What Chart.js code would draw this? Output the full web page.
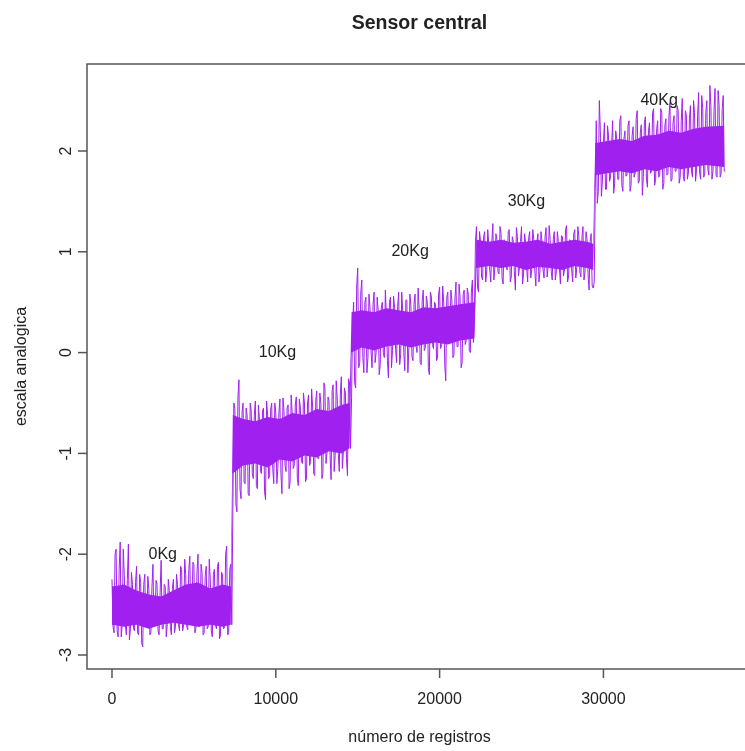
<!DOCTYPE html>
<html>
<head>
<meta charset="utf-8">
<title>Sensor central</title>
<script src="https://cdn.jsdelivr.net/npm/chart.js@4.4.1/dist/chart.umd.min.js"></script>
<style>
  html, body { margin: 0; padding: 0; background: #fff; overflow: hidden; }
  #sensor { display: block; }
</style>
</head>
<body>
<canvas id="sensor" width="760" height="751"></canvas>
<script>
// registros: uma leitura a cada 125 registros (e outra no meio do intervalo)
const passo = 125;

// 0Kg
const valores0 = [
  -2.25, -2.78, -1.95, -2.82, -1.88, -2.70, -2.20, -2.80, -1.90, -2.74,
  -2.30, -2.76, -2.12, -2.80, -2.28, -2.92, -2.20, -2.72, -2.35, -2.78,
  -2.10, -2.70, -2.30, -2.80, -2.06, -2.74, -2.32, -2.70, -2.36, -2.80,
  -2.25, -2.72, -2.30, -2.76, -2.15, -2.70, -2.20, -2.75, -2.02, -2.68,
  -2.10, -2.73, -2.00, -2.70, -2.18, -2.78, -2.12, -2.72, -2.25, -2.82,
  -2.15, -2.74, -2.08, -2.80, -2.20, -2.72, -1.92, -2.78, -2.10
];
// 10Kg
const valores10 = [
  -1.60, -0.55, -1.58, -0.27, -1.45, -0.50, -1.30, -0.62, -1.42, -0.58,
  -1.25, -0.48, -1.35, -0.66, -1.20, -0.55, -1.46, -0.62, -1.22, -0.50,
  -1.30, -0.60, -1.15, -0.46, -1.40, -0.58, -1.18, -0.52, -1.28, -0.60,
  -1.12, -0.44, -1.32, -0.55, -1.10, -0.50, -1.25, -0.42, -1.08, -0.55,
  -1.22, -0.38, -1.05, -0.50, -1.20, -0.35, -1.00, -0.48, -1.26, -0.32,
  -1.02, -0.45, -1.18, -0.24, -0.98, -0.40, -1.22, -0.30
];
// 20Kg
const valores20 = [
  -0.45, 0.50, -0.35, 0.84, -0.10, 0.72, -0.20, 0.55, -0.05, 0.45,
  -0.15, 0.60, 0.00, 0.42, -0.12, 0.50, -0.05, 0.38, -0.25, 0.55,
  0.02, 0.45, -0.10, 0.60, -0.02, 0.40, -0.18, 0.52, 0.05, 0.46,
  -0.08, 0.58, 0.00, 0.44, -0.12, 0.62, 0.05, 0.50, -0.22, 0.55,
  0.04, 0.48, -0.05, 0.65, 0.08, 0.50, -0.28, 0.60, 0.10, 0.52,
  -0.02, 0.70, 0.06, 0.55, -0.10, 0.62, 0.12, 0.58, 0.00, 0.72,
  0.35
];
// 30Kg
const valores30 = [
  1.25, 0.60, 1.10, 0.72, 1.20, 0.80, 1.08, 0.70, 1.28, 0.85,
  1.12, 0.78, 1.18, 0.68, 1.05, 0.82, 1.22, 0.75, 1.10, 0.62,
  1.15, 0.84, 1.25, 0.78, 1.08, 0.70, 1.20, 0.82, 1.12, 0.66,
  1.18, 0.80, 1.10, 0.74, 1.24, 0.85, 1.12, 0.72, 1.20, 0.80,
  1.10, 0.68, 1.15, 0.82, 1.26, 0.76, 1.10, 0.70, 1.22, 0.84,
  1.15, 0.75, 1.25, 0.80, 1.12, 0.62, 1.18, 0.64
];
// 40Kg
const valores40 = [
  1.60, 1.48, 2.50, 1.55, 2.10, 1.62, 2.25, 1.70, 2.05, 1.58,
  2.20, 1.72, 2.30, 1.66, 2.12, 1.75, 2.25, 1.60, 2.15, 1.74,
  2.32, 1.68, 2.18, 1.56, 2.28, 1.72, 2.20, 1.78, 2.38, 1.66,
  2.22, 1.74, 2.42, 1.62, 2.25, 1.76, 2.35, 1.70, 2.28, 1.80,
  2.45, 1.68, 2.30, 1.75, 2.40, 1.72, 2.32, 1.80, 2.50, 1.70,
  2.35, 1.78, 2.55, 1.74, 2.38, 1.82, 2.65, 1.72, 2.40, 1.76,
  2.60, 1.74, 2.42, 1.80
];

// leituras no meio de cada intervalo de 125 registros
const meio0 = [
  -2.72, -2.00, -2.76, -2.15, -2.82, -1.95, -2.70, -2.25, -2.85, -2.18,
  -2.74, -2.28, -2.78, -2.20, -2.88, -2.30, -2.72, -2.22, -2.80, -2.33,
  -2.70, -2.26, -2.76, -2.38, -2.74, -2.30, -2.82, -2.25, -2.72, -2.34,
  -2.78, -2.20, -2.70, -2.12, -2.76, -2.05, -2.72, -2.15, -2.70, -2.08,
  -2.78, -2.18, -2.72, -2.10, -2.80, -2.22, -2.74, -2.05, -2.76, -2.20,
  -2.70, -2.12, -2.84, -2.18, -2.74, -2.00, -2.80, -2.15, -2.70
];
const meio10 = [
  -0.50, -1.50, -0.45, -1.35, -0.60, -1.28, -0.55, -1.40, -0.50, -1.20,
  -0.62, -1.32, -0.52, -1.18, -0.58, -1.38, -0.48, -1.25, -0.56, -1.15,
  -0.50, -1.30, -0.60, -1.20, -0.45, -1.12, -0.55, -1.35, -0.42, -1.15,
  -0.52, -1.25, -0.46, -1.08, -0.40, -1.28, -0.50, -1.12, -0.36, -1.20,
  -0.48, -1.05, -0.40, -1.25, -0.30, -1.10, -0.44, -1.02, -0.38, -1.18,
  -0.28, -1.00, -0.42, -1.15, -0.35, -1.05, -0.26, -0.95
];
const meio20 = [
  0.30, -0.30, 0.65, -0.15, 0.60, -0.05, 0.50, -0.20, 0.58, 0.02,
  0.48, -0.10, 0.55, -0.22, 0.44, 0.00, 0.62, -0.08, 0.50, -0.15,
  0.56, 0.03, 0.46, -0.12, 0.60, 0.00, 0.52, -0.20, 0.58, -0.04,
  0.48, 0.06, 0.64, -0.10, 0.52, 0.02, 0.56, -0.15, 0.60, 0.08,
  0.50, -0.08, 0.58, 0.04, 0.66, -0.12, 0.55, 0.10, 0.62, -0.05,
  0.54, 0.06, 0.68, -0.15, 0.58, 0.08, 0.64, 0.02, 0.60, 0.10,
  1.10
];
const meio30 = [
  0.65, 1.20, 0.75, 1.15, 0.70, 1.22, 0.82, 1.10, 0.72, 1.18,
  0.80, 1.25, 0.74, 1.12, 0.85, 1.20, 0.70, 1.15, 0.80, 1.24,
  0.76, 1.10, 0.68, 1.18, 0.84, 1.14, 0.74, 1.22, 0.80, 1.10,
  0.70, 1.20, 0.82, 1.15, 0.75, 1.26, 0.80, 1.12, 0.72, 1.20,
  0.84, 1.16, 0.76, 1.22, 0.70, 1.12, 0.82, 1.18, 0.74, 1.25,
  0.80, 1.14, 0.72, 1.20, 0.78, 1.10, 0.66, 0.70
];
const meio40 = [
  2.30, 1.60, 2.20, 1.70, 2.28, 1.62, 2.15, 1.74, 2.30, 1.68,
  2.12, 1.72, 2.35, 1.60, 2.20, 1.76, 2.30, 1.66, 2.24, 1.78,
  2.40, 1.70, 2.26, 1.75, 2.34, 1.64, 2.28, 1.80, 2.42, 1.72,
  2.30, 1.76, 2.38, 1.68, 2.32, 1.78, 2.48, 1.72, 2.35, 1.80,
  2.40, 1.74, 2.52, 1.70, 2.36, 1.78, 2.45, 1.74, 2.38, 1.82,
  2.58, 1.72, 2.42, 1.78, 2.50, 1.76, 2.44, 1.80, 2.62, 1.74,
  2.45, 1.78, 2.55, 1.80
];

// faixa densa (núcleo) de cada patamar
const nucleoX = [
  0, 750, 1500, 2250, 3000, 3750, 4500, 5250, 6000, 6750, 7250,
  7375, 8000, 8750, 9500, 10250, 11000, 11750, 12500, 13250, 14000, 14500,
  14625, 15250, 16000, 16750, 17500, 18250, 19000, 19750, 20500, 21250, 22125,
  22250, 23000, 23750, 24500, 25250, 26000, 26750, 27500, 28250, 29000, 29375,
  29500, 30250, 31000, 31750, 32500, 33250, 34000, 34750, 35500, 36250, 37375
];
const nucleoSup = [
  -2.32, -2.30, -2.36, -2.40, -2.42, -2.36, -2.30, -2.28, -2.34, -2.30, -2.32,
  -0.62, -0.66, -0.68, -0.64, -0.66, -0.60, -0.62, -0.56, -0.58, -0.52, -0.50,
  0.40, 0.42, 0.40, 0.44, 0.42, 0.40, 0.45, 0.44, 0.46, 0.48, 0.50,
  1.12, 1.10, 1.12, 1.09, 1.10, 1.12, 1.08, 1.10, 1.12, 1.10, 1.08,
  2.08, 2.10, 2.12, 2.10, 2.15, 2.16, 2.20, 2.18, 2.22, 2.24, 2.25
];
const nucleoInf = [
  -2.70, -2.72, -2.70, -2.74, -2.70, -2.68, -2.70, -2.72, -2.70, -2.72, -2.70,
  -1.20, -1.12, -1.10, -1.14, -1.06, -1.08, -1.02, -1.04, -0.98, -1.00, -0.95,
  0.00, 0.05, 0.02, 0.06, 0.08, 0.05, 0.08, 0.10, 0.08, 0.12, 0.14,
  0.84, 0.86, 0.84, 0.86, 0.82, 0.85, 0.84, 0.82, 0.86, 0.84, 0.82,
  1.76, 1.78, 1.80, 1.78, 1.82, 1.80, 1.84, 1.82, 1.84, 1.86, 1.84
];

const ticksX = [0, 10000, 20000, 30000];
const ticksY = [-3, -2, -1, 0, 1, 2];

const etiquetas = ['0Kg', '10Kg', '20Kg', '30Kg', '40Kg'];
const etiquetasX = [3100, 10100, 18200, 25300, 33400];
const etiquetasY = [-2, 0, 1, 1.5, 2.5];

const ROXO = '#A020F0';
const FONTE = '"Liberation Sans", Arial, sans-serif';

const valores = [...valores0, ...valores10, ...valores20, ...valores30, ...valores40];
const meio = [...meio0, ...meio10, ...meio20, ...meio30, ...meio40];

// junta as duas leituras na ordem dos registros
const pontos = [];
valores.forEach((v, i) => {
  pontos.push({ x: i * passo, y: v });
  pontos.push({ x: i * passo + passo / 2, y: meio[i] });
});
const sup = nucleoX.map((x, i) => ({ x: x, y: nucleoSup[i] }));
const inf = nucleoX.map((x, i) => ({ x: x, y: nucleoInf[i] }));

// eixos no estilo do R (caixa, marcas e textos)
const eixosR = {
  id: 'eixosR',
  afterDraw(chart) {
    const ctx = chart.ctx;
    const area = chart.chartArea;
    const sx = chart.scales.x;
    const sy = chart.scales.y;

    ctx.save();
    ctx.strokeStyle = '#555';
    ctx.lineWidth = 1.5;
    ctx.strokeRect(area.left, area.top, area.right - area.left, area.bottom - area.top);

    ctx.fillStyle = '#222';
    ctx.font = '16px ' + FONTE;

    // eixo x
    ctx.textAlign = 'center';
    ctx.textBaseline = 'middle';
    ticksX.forEach(t => {
      const px = sx.getPixelForValue(t);
      ctx.beginPath();
      ctx.moveTo(px, area.bottom);
      ctx.lineTo(px, area.bottom + 9);
      ctx.stroke();
      ctx.fillText(String(t), px, 700);
    });

    // eixo y
    ticksY.forEach(t => {
      const py = sy.getPixelForValue(t);
      ctx.beginPath();
      ctx.moveTo(area.left, py);
      ctx.lineTo(area.left - 9, py);
      ctx.stroke();
      ctx.save();
      ctx.translate(67, py);
      ctx.rotate(-Math.PI / 2);
      ctx.fillText(String(t), 0, 0);
      ctx.restore();
    });

    // títulos
    const cx = (area.left + area.right) / 2;
    ctx.fillText('número de registros', cx, 738);
    ctx.save();
    ctx.translate(22, (area.top + area.bottom) / 2);
    ctx.rotate(-Math.PI / 2);
    ctx.fillText('escala analogica', 0, 0);
    ctx.restore();

    ctx.font = 'bold 19.5px ' + FONTE;
    ctx.fillText('Sensor central', cx, 24);

    // rótulos de peso
    ctx.font = '16px ' + FONTE;
    etiquetas.forEach((txt, i) => {
      ctx.fillText(txt, sx.getPixelForValue(etiquetasX[i]), sy.getPixelForValue(etiquetasY[i]));
    });
    ctx.restore();
  }
};

new Chart(document.getElementById('sensor').getContext('2d'), {
  type: 'line',
  data: {
    datasets: [
      {
        label: 'Sensor central',
        data: pontos,
        borderColor: ROXO,
        borderWidth: 1,
        pointRadius: 0,
        tension: 0,
        fill: false
      },
      {
        label: 'núcleo sup',
        data: sup,
        borderColor: ROXO,
        borderWidth: 0,
        pointRadius: 0,
        fill: false
      },
      {
        label: 'núcleo inf',
        data: inf,
        borderColor: ROXO,
        backgroundColor: ROXO,
        borderWidth: 0,
        pointRadius: 0,
        fill: '-1'
      }
    ]
  },
  options: {
    responsive: false,
    animation: false,
    layout: {
      padding: { left: 87, top: 64, right: 8, bottom: 82 }
    },
    plugins: {
      legend: { display: false },
      tooltip: { enabled: false }
    },
    scales: {
      x: { type: 'linear', min: -1526, max: 39070, display: false },
      y: { min: -3.139, max: 2.863, display: false }
    }
  },
  plugins: [eixosR]
});
</script>
</body>
</html>
